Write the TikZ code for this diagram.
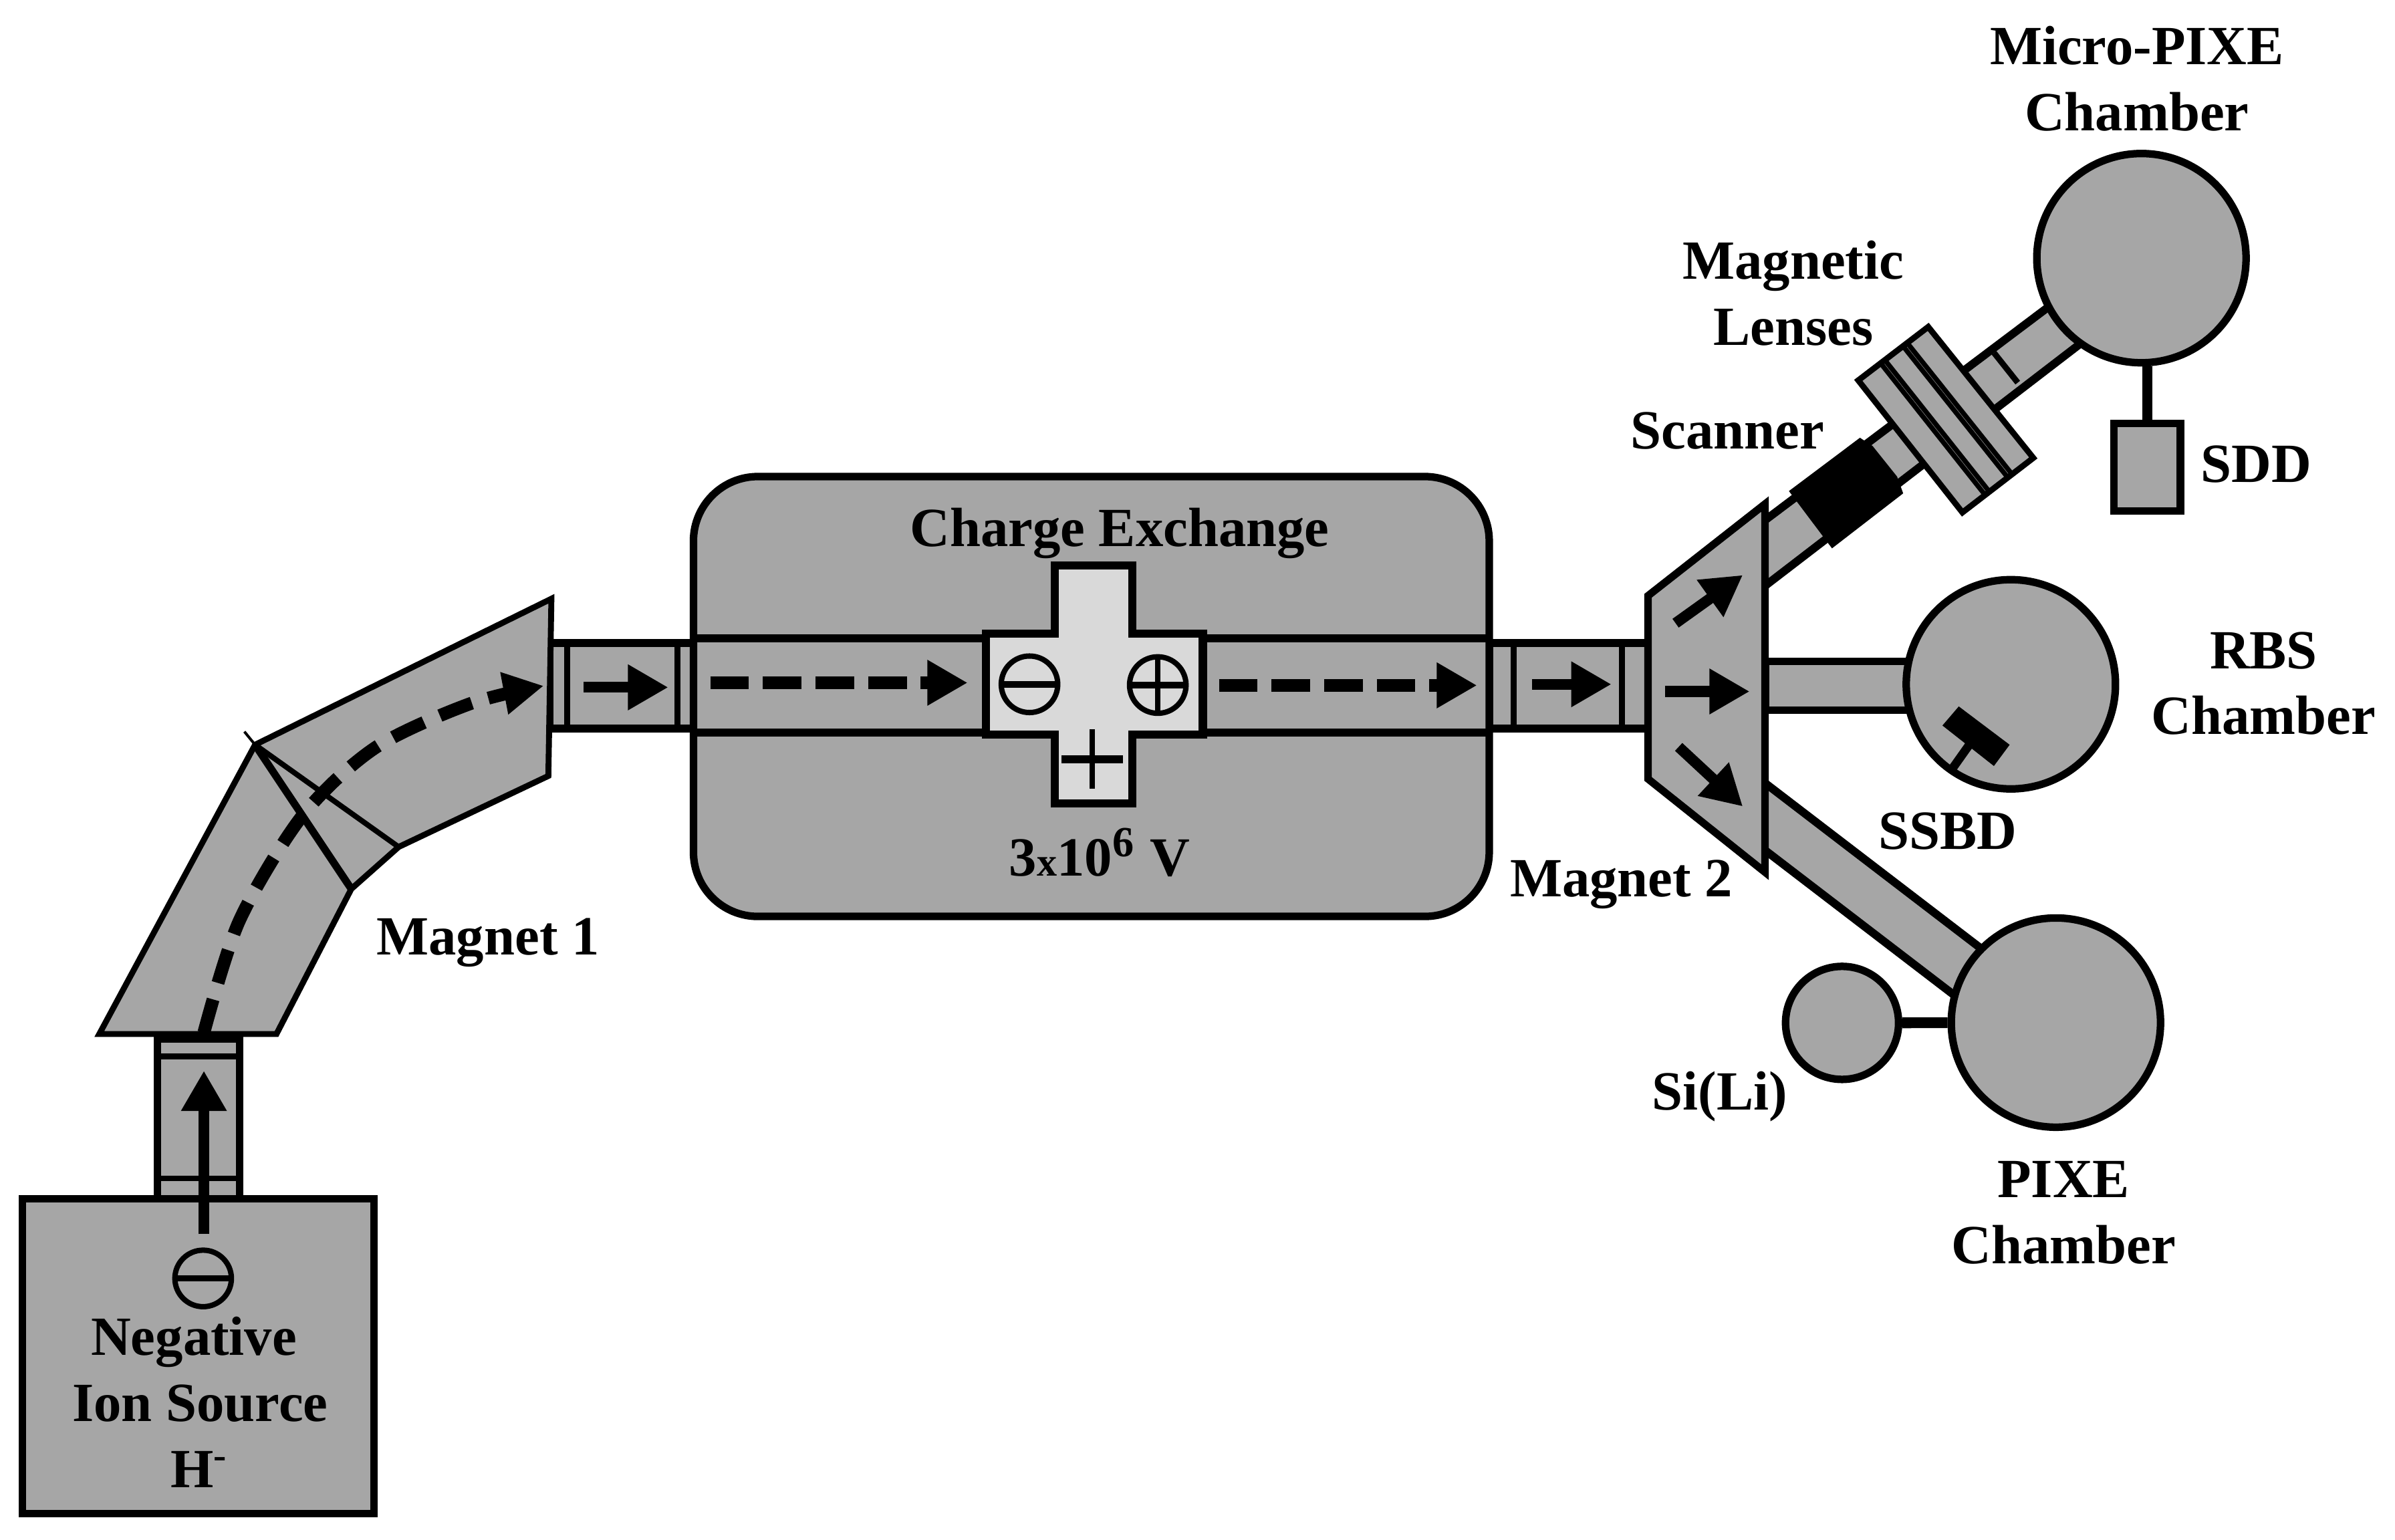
\documentclass[tikz,border=0pt]{standalone}
\usepackage{fontspec}
\setmainfont{Liberation Serif}
\usepackage{tikz}
\usetikzlibrary{calc,arrows.meta,positioning}
\definecolor{partgray}{HTML}{A6A6A6}
\definecolor{crossgray}{HTML}{D9D9D9}
\tikzset{
    partline/.style={draw=black,line width=1.4pt,fill=partgray,line join=miter},
    thinpart/.style={draw=black,line width=1.1pt,fill=partgray,line join=miter},
    inner line/.style={draw=black,line width=1.1pt},
    tube line/.style={draw=black,line width=1.5pt},
    beamarrow/.style={line width=2pt,-{Triangle[length=7.5pt,width=8pt]}},
    beamdash/.style={line width=2.4pt,dash pattern=on 7.2pt off 2.6pt,-{Triangle[length=7.5pt,width=8pt]}},
    chamber/.style={circle,partline,inner sep=0pt,minimum size=13.7mm},
    signcirc/.style={circle,draw=black,line width=1pt,inner sep=0pt,minimum size=3.7mm},
    labeltext/.style={font=\fontsize{10.3}{12}\selectfont\bfseries,inner sep=0pt,align=center},
}
\begin{document}
\begin{tikzpicture}[x=0.1mm,y=-0.1mm]
    \useasboundingbox (0,0) rectangle (1568,1008);

    % beam tubes under the magnets
    \draw[partline] (103,680) rectangle (157,785);
    \draw[inner line] (103,691.5) -- (157,691.5);
    \draw[inner line] (103,771.5) -- (157,771.5);
    \draw[partline] (360,421) rectangle (455,477);
    \draw[inner line] (371.5,421) -- (371.5,477);
    \draw[inner line] (443.5,421) -- (443.5,477);
    \draw[partline] (975,421) rectangle (1079,477);
    \draw[inner line] (991,421) -- (991,477);
    \draw[inner line] (1062,421) -- (1062,477);

    % upper, middle and lower branch after magnet 2
    \fill[partgray] (1155,341) -- (1345,198) -- (1362,225) -- (1155,384) -- cycle;
    \draw[tube line] (1155,341) -- (1345,198);
    \draw[tube line] (1155,384) -- (1362,225);
    \draw[partline] (1156,433) rectangle (1256,465);
    \fill[partgray] (1156,513) -- (1297,621) -- (1280,652) -- (1156,557) -- cycle;
    \draw[tube line] (1156,513) -- (1297,621);
    \draw[tube line] (1156,557) -- (1280,652);
    \draw[inner line] (1305.5,231) -- (1321,250.5);

    % source
    \draw[partline] (14.7,785) rectangle (245,991);

    % magnet 1
    \draw[thinpart] (65,677) -- (181,677) -- (230,582) -- (261,554.5) -- (359,508) -- (361,392) -- (167,487.6) -- cycle;
    \draw[line width=1.4pt] (230,582) -- (167,487.6);
    \draw[line width=1pt] (261,554.5) -- (167,487.6);
    \draw[line width=0.5pt] (167,487.6) -- (160,479);

    % charge exchange tank
    \draw[partline,rounded corners=12pt] (454,312) rectangle (975,600);
    \draw[tube line] (454,418) -- (975,418);
    \draw[tube line] (454,479.5) -- (975,479.5);
    \draw[draw=black,line width=1.5pt,fill=crossgray] (690.5,370) -- (741.5,370) -- (741.5,415) -- (787.5,415) -- (787.5,481) -- (741.5,481) -- (741.5,526) -- (690.5,526) -- (690.5,481) -- (645.5,481) -- (645.5,415) -- (690.5,415) -- cycle;
    \node[signcirc] (chargeminus) at (674,448) {};
    \draw[line width=1.2pt] (chargeminus.west) -- (chargeminus.east);
    \node[signcirc] (chargeplus) at (758,448.5) {};
    \draw[line width=1.2pt] (chargeplus.west) -- (chargeplus.east);
    \draw[line width=0.9pt] (chargeplus.north) -- (chargeplus.south);
    \draw[line width=1.5pt] (695,497) -- (735,497);
    \draw[line width=1pt] (715,477.5) -- (715,516.5);

    % magnet 2
    \draw[partline] (1079,390) -- (1155.5,330) -- (1155.5,571) -- (1079,510) -- cycle;

    % lenses and scanner
    \coordinate (lensA) at (1262.4,214);
    \coordinate (lensB) at (1331.2,299.8);
    \coordinate (lensC) at (1284.8,335.5);
    \coordinate (lensD) at (1216.6,249);
    \draw[thinpart] (lensA) -- (lensB) -- (lensC) -- (lensD) -- cycle;
    \foreach \t in {0.30,0.36,0.62,0.68} {
        \draw[line width=0.9pt] ($(lensA)!\t!(lensD)$) -- ($(lensB)!\t!(lensC)$);
    }
    \fill[black] (1217.7,286.6) -- (1226,292) -- (1242,312) -- (1246,323) -- (1199.4,359) -- (1171.2,321.5) -- cycle;

    % chambers and detectors
    \node[chamber] (micro) at (1402,169) {};
    \node[partline,rectangle,inner sep=0pt,minimum width=4.35mm,minimum height=5.75mm] (sdd) at (1405.8,305.8) {};
    \draw[line width=1.8pt] (sdd.north) -- (sdd.north |- micro.south);
    \node[chamber] (rbs) at (1316.5,448) {};
    \coordinate (ssbdA) at (1282.4,462.5);
    \coordinate (ssbdB) at (1315.7,487.6);
    \coordinate (ssbdC) at (1305.4,501.5);
    \coordinate (ssbdD) at (1271.7,475);
    \fill[black] (ssbdA) -- (ssbdB) -- (ssbdC) -- (ssbdD) -- cycle;
    \draw[line width=1.6pt] (1289,488) -- (1278,503.5);
    \node[chamber] (pixe) at (1346,669.5) {};
    \node[circle,partline,inner sep=0pt,minimum size=7.4mm] (sili) at (1206,669.7) {};
    \draw[line width=2pt] (sili) -- (pixe);

    % beam
    \draw[beamarrow] (133.5,808) -- (133.5,701);
    \draw[line width=2.4pt,dash pattern=on 6.4pt off 3.2pt,-{Triangle[length=7.5pt,width=7.5pt]}] plot[smooth] coordinates {(133.5,676) (156.6,603) (198,534) (245.6,489.6) (307,461) (356,449)};
    \draw[beamarrow] (382,450) -- (437.5,450);
    \draw[beamdash] (465,447) -- (633.5,447);
    \draw[beamdash] (798,448.7) -- (967,448.7);
    \draw[beamarrow] (1003,448) -- (1055,448);
    \draw[beamarrow] (1097,408) -- (1141,376.5);
    \draw[beamarrow] (1090,452.7) -- (1145.5,452.7);
    \draw[beamarrow] (1099,489) -- (1141,528);

    \node[signcirc] (sourceminus) at (133,837) {};
    \draw[line width=1.2pt] (sourceminus.west) -- (sourceminus.east);

    % labels
    \node[labeltext] (lblsource) at (131,918) {\hspace*{-2.3pt}Negative\\[0.3pt]Ion Source\\[0.3pt]H\textsuperscript{-}};
    \node[labeltext] (lblmagnetone) at (319.5,617) {Magnet 1};
    \node[labeltext] (lblcharge) at (733,349) {Charge Exchange};
    \node[labeltext] (lblvolt) at (720,558) {3{\fontsize{7.5}{9}\selectfont x}10\textsuperscript{\fontsize{8}{9}\selectfont 6} V};
    \node[labeltext] (lblmagnettwo) at (1061.5,579) {Magnet 2};
    \node[labeltext] (lblscanner) at (1131,282) {Scanner};
    \node[labeltext] (lbllenses) at (1174,192) {Magnetic\\[0.3pt]Lenses};
    \node[labeltext] (lblmicro) at (1399,51.5) {Micro-PIXE\\[0.3pt]Chamber};
    \node[labeltext] (lblsdd) at (1477,304) {SDD};
    \node[labeltext] (lblrbs) at (1482,447.5) {RBS\\[0.3pt]Chamber};
    \node[labeltext] (lblssbd) at (1275,544) {SSBD};
    \node[labeltext] (lblsili) at (1126,718) {Si(Li)};
    \node[labeltext] (lblpixe) at (1351,794) {PIXE\\[0.3pt]Chamber};
\end{tikzpicture}
\end{document}
